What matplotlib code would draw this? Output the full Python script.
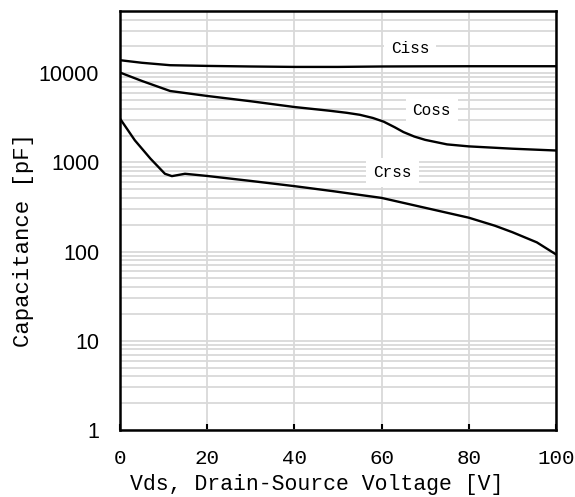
import numpy as np
import matplotlib.pyplot as plt
from matplotlib.ticker import LogLocator, NullFormatter

# Data
vds_ciss = [0, 5, 11.5, 20, 30, 40, 50, 60, 70, 80, 90, 100]
ciss = [14000, 13100, 12300, 12080, 11900, 11770, 11770, 11900, 11950, 11980, 11980, 11980]

vds_coss = [0, 5, 11.5, 20, 30, 40, 48, 52, 55, 58, 60.5, 63, 65, 67.5, 70, 75, 80, 90, 100]
coss = [10180, 8200, 6320, 5560, 4850, 4180, 3800, 3600, 3420, 3150, 2860, 2480, 2190, 1950, 1790, 1593, 1513, 1425, 1360]

vds_crss = [0, 3.4, 7, 10.3, 11.9, 13.5, 14.9, 20, 30, 40, 49, 60, 71, 80, 86, 90, 95.6, 100]
crss = [3100, 1770, 1100, 746, 702, 725, 746, 705, 620, 542, 475, 400, 302, 240, 195, 165, 127, 93]

xticks = [0, 20, 40, 60, 80, 100]
yticks = [1, 10, 100, 1000, 10000]
ytick_labels = ['1', '10', '100', '1000', '10000']

fig = plt.figure(figsize=(5.75, 4.97), dpi=100)
ax = fig.add_axes([0.2087, 0.1348, 0.7583, 0.8433])

ax.plot(vds_ciss, ciss, color='black', lw=1.7, zorder=3)
ax.plot(vds_coss, coss, color='black', lw=1.7, zorder=3)
ax.plot(vds_crss, crss, color='black', lw=1.7, zorder=3)

ax.set_yscale('log')
ax.set_xlim(0, 100)
ax.set_ylim(1, 50000)

ax.set_xticks(xticks)
ax.set_yticks(yticks)
ax.set_yticklabels(ytick_labels, fontfamily='Liberation Sans', fontsize=15.5)
ax.yaxis.set_minor_locator(LogLocator(base=10, subs=np.arange(2, 10)))
ax.yaxis.set_minor_formatter(NullFormatter())
for lab in ax.get_xticklabels():
    lab.set_fontfamily('Liberation Mono')
    lab.set_fontsize(15)

ax.grid(True, which='major', axis='x', color='#d9d9d9', lw=1.3)
ax.grid(True, which='both', axis='y', color='#d9d9d9', lw=1.3)
ax.set_axisbelow(True)

ax.tick_params(axis='x', direction='in', length=4, width=1.5, pad=14)
ax.tick_params(axis='y', which='both', length=0, pad=15)

for s in ax.spines.values():
    s.set_linewidth(1.8)
    s.set_color('black')

ax.set_xlabel('Vds, Drain-Source Voltage [V]', fontfamily='Liberation Mono', fontsize=15.5)
ax.set_ylabel('Capacitance [pF]', fontfamily='Liberation Mono', fontsize=16)
ax.xaxis.set_label_coords(0.452, -0.105)
ax.yaxis.set_label_coords(-0.197, 0.453)

box = dict(facecolor='white', edgecolor='none', pad=5)
ax.text(66.5, 19000, 'Ciss', fontfamily='Liberation Mono', fontsize=11.5, ha='center', va='center', bbox=box, zorder=4)
ax.text(71.5, 3800, 'Coss', fontfamily='Liberation Mono', fontsize=11.5, ha='center', va='center', bbox=box, zorder=4)
ax.text(62.5, 770, 'Crss', fontfamily='Liberation Mono', fontsize=11.5, ha='center', va='center', bbox=box, zorder=4)

fig.savefig('out.png', dpi=100)
